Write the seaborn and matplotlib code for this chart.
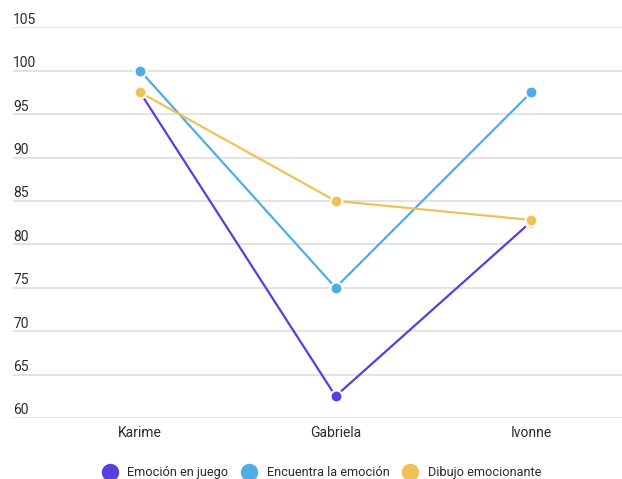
import matplotlib
matplotlib.use("Agg")
import matplotlib.pyplot as plt
import matplotlib.transforms as mtransforms
from matplotlib.lines import Line2D
import seaborn as sns
import pandas as pd

# Scores per participant for each activity
participants = ["Karime", "Gabriela", "Ivonne"]
series_names = ["Emoción en juego", "Encuentra la emoción", "Dibujo emocionante"]
emocion_en_juego = [97.5, 62.5, 82.6]
encuentra_la_emocion = [100, 75, 97.5]
dibujo_emocionante = [97.5, 85, 82.8]
y_ticks = [60, 65, 70, 75, 80, 85, 90, 95, 100, 105]

colors = ["#5b3cdc", "#4eaee4", "#efc259"]
text_color = "#2b2b2b"

rows = []
for name, vals in zip(series_names, [emocion_en_juego, encuentra_la_emocion, dibujo_emocionante]):
    for p, v in zip(participants, vals):
        rows.append({"Participante": p, "Puntaje": v, "Actividad": name})
df = pd.DataFrame(rows)

sns.set_theme(style="white")
plt.rcParams["font.family"] = ["Roboto", "DejaVu Sans"]

fig = plt.figure(figsize=(6.22, 4.79), dpi=100)
ax = fig.add_axes([13 / 622, 1 - 417.9 / 479, 1 - 13 / 622, (417.9 - 27.3) / 479])

sns.lineplot(
    data=df, x="Participante", y="Puntaje", hue="Actividad",
    hue_order=series_names, palette=colors, marker="o", markersize=8.5,
    markeredgecolor="white", markeredgewidth=1.4, linewidth=1.6,
    sort=False, legend=False, ax=ax, zorder=3,
)

ax.set_xlim(-0.65, 2.465)
ax.set_ylim(60, 105)
ax.set_yticks(y_ticks)
ax.yaxis.grid(True, color="#e0e0e0", linewidth=1.3, zorder=0)
ax.set_axisbelow(True)
for s in ax.spines.values():
    s.set_visible(False)

ax.set_xlabel("")
ax.set_ylabel("")
ax.tick_params(axis="x", length=0, pad=5.5, labelsize=10, labelcolor=text_color)
ax.tick_params(axis="y", length=0, labelleft=False)

# y labels sit just above their gridlines, flush left
trans = mtransforms.blended_transform_factory(ax.transAxes, ax.transData)
trans = trans + mtransforms.ScaledTranslation(0, 3.5 / 100, fig.dpi_scale_trans)
for t in y_ticks:
    ax.text(0.0, t, str(t), transform=trans, ha="left", va="baseline",
            fontsize=10, color=text_color)

handles = [
    Line2D([0], [0], marker="o", linestyle="", markersize=11.5,
           markerfacecolor=c, markeredgecolor=c)
    for c in colors
]
fig.legend(handles, series_names, loc="center", bbox_to_anchor=(0.517, 6.5 / 479),
           ncol=3, frameon=False, fontsize=9.2, handlelength=1.2,
           handletextpad=0.8, columnspacing=1.0, labelcolor=text_color,
           borderpad=0, borderaxespad=0)

fig.savefig("out.png", dpi=100)
